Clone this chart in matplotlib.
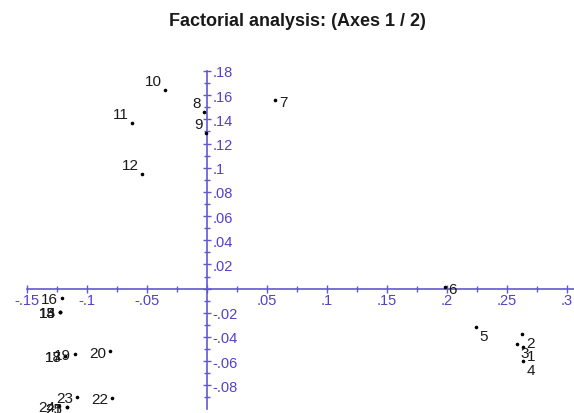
"""Factorial analysis scatter (axes 1 / 2) with axes crossing at the origin."""

import matplotlib

matplotlib.use("Agg")
import matplotlib.pyplot as plt
from matplotlib.ticker import FuncFormatter, MultipleLocator

# observation labels and their coordinates on factorial axes 1 and 2
labels = ["1", "2", "3", "4", "5", "6", "7", "8", "9", "10", "11", "12", "13",
          "14", "15", "16", "17", "18", "19", "20", "21", "22", "23", "24", "25"]
axis1 = [0.263, 0.2625, 0.258, 0.263, 0.224, 0.198, 0.057, -0.0025, -0.001,
         -0.035, -0.0625, -0.054, -0.1225, -0.1225, -0.1225, -0.121, -0.118,
         -0.118, -0.110, -0.081, -0.117, -0.079, -0.108, -0.123, -0.117]
axis2 = [-0.048, -0.0375, -0.046, -0.060, -0.032, 0.001, 0.156, 0.146, 0.129,
         0.164, 0.137, 0.095, -0.019, -0.019, -0.019, -0.0075, -0.0555,
         -0.0555, -0.054, -0.052, -0.098, -0.0905, -0.0895, -0.097, -0.098]

# where each label sits relative to its point
placement = ["dr", "dr", "dr", "dr", "dr", "r", "r", "ul", "ul", "ul", "ul",
             "ul", "l", "l", "l", "l", "l", "l", "l", "l", "l", "l", "l", "l", "l"]

AXIS_COLOR = "#6257d2"
TICK_TEXT = "#5240c8"

plt.rcParams["font.family"] = ["Liberation Sans", "DejaVu Sans"]

fig = plt.figure(figsize=(5.74, 4.14), dpi=100)
ax = fig.add_axes([27 / 574, 4 / 414, 547 / 574, 338 / 414])
ax.set_xlim(-0.15, 0.3058)
ax.set_ylim(-0.0996, 0.18)

# axes through the origin
for side in ("top", "left"):
    ax.spines[side].set_visible(False)
ax.spines["bottom"].set_position(("data", 0))
ax.spines["right"].set_position(("data", 0))
for side in ("bottom", "right"):
    ax.spines[side].set_color(AXIS_COLOR)
    ax.spines[side].set_linewidth(1.2)
ax.yaxis.tick_right()
ax.xaxis.tick_bottom()


def short_fmt(v, _pos):
    if abs(v) < 1e-9:
        return ""
    s = f"{v:.3f}".rstrip("0")
    return s.replace("0.", ".")


ax.xaxis.set_major_locator(MultipleLocator(0.05))
ax.xaxis.set_minor_locator(MultipleLocator(0.025))
ax.yaxis.set_major_locator(MultipleLocator(0.02))
ax.yaxis.set_minor_locator(MultipleLocator(0.01))
ax.xaxis.set_major_formatter(FuncFormatter(short_fmt))
ax.yaxis.set_major_formatter(FuncFormatter(short_fmt))
ax.tick_params(which="both", direction="inout", color=AXIS_COLOR, width=1)
ax.tick_params(which="major", length=6, labelsize=10.5, labelcolor=TICK_TEXT)
ax.tick_params(which="minor", length=4)
ax.tick_params(axis="x", pad=0)
ax.tick_params(axis="y", pad=1)

ax.scatter(axis1, axis2, s=2.5, color="black", zorder=3, clip_on=False)

offsets = {
    "ul": ((-3, 5), "right", "baseline"),
    "l": ((-4, 0), "right", "center_baseline"),
    "r": ((4, 0), "left", "center_baseline"),
    "dr": ((4, -2), "left", "top"),
}
for name, x, y, where in zip(labels, axis1, axis2, placement):
    off, ha, va = offsets[where]
    ax.annotate(name, (x, y), xytext=off, textcoords="offset pixels",
                ha=ha, va=va, fontsize=11, color="#1a1a1a", zorder=4)

fig.text(297 / 574, 1 - 21 / 414, "Factorial analysis: (Axes 1 / 2)",
         ha="center", va="center", fontsize=13, fontweight="bold",
         color="#1a1a1a")

fig.savefig("out.png", dpi=100)
